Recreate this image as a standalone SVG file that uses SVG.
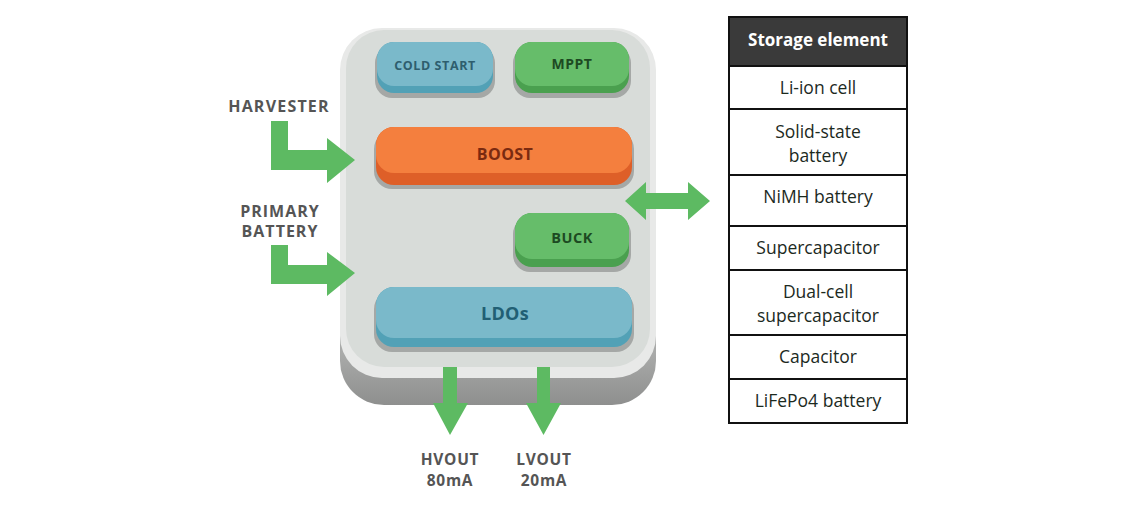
<svg xmlns="http://www.w3.org/2000/svg" width="1140" height="505" viewBox="0 0 1140 505">
<defs>
<linearGradient id="baseG" x1="0" y1="0" x2="0" y2="1">
<stop offset="0.85" stop-color="#a9aaa9"/>
<stop offset="1" stop-color="#8e8f8e"/>
</linearGradient>
<style>
.lbl{font-family:"Open Sans","Liberation Sans",sans-serif;font-weight:700;fill:#555555;text-anchor:middle}
.blk{font-family:"Open Sans","Liberation Sans",sans-serif;font-weight:700;text-anchor:middle}
.tbl{font-family:"Open Sans","Liberation Sans",sans-serif;font-size:17.5px;fill:#1c2a1e;text-anchor:middle}
.cell{fill:#ffffff;stroke:#111111;stroke-width:2}
.arrow{fill:#5dba62}
.shadow{fill:#a5a8a6}
</style>
</defs>
<rect width="1140" height="505" fill="#ffffff"/>

<g id="chip">
<rect x="340" y="60" width="316" height="345" rx="44" fill="url(#baseG)"/>
<rect x="340" y="28" width="316" height="350" rx="42" fill="#e8e9e8"/>
<rect x="346" y="30" width="304" height="337" rx="38" fill="#d8dcd9"/>
</g>

<g id="cold-start">
<rect class="shadow" x="375" y="46" width="120" height="52" rx="17"/>
<rect x="377" y="42" width="116" height="51" rx="17" fill="#52a1b6"/>
<rect x="377" y="42" width="116" height="44" rx="17" fill="#7ab9ca"/>
<text class="blk" x="435" y="69.5" font-size="12.5" letter-spacing="0.6" fill="#2e5e6e">COLD START</text>
</g>

<g id="mppt">
<rect class="shadow" x="513" y="46" width="118" height="52" rx="17"/>
<rect x="515" y="42" width="114" height="51" rx="17" fill="#4aa04f"/>
<rect x="515" y="42" width="114" height="44" rx="17" fill="#66bd6a"/>
<text class="blk" x="572" y="69" font-size="14" letter-spacing="0.5" fill="#1d4a22">MPPT</text>
</g>

<g id="boost">
<rect class="shadow" x="374" y="131" width="260" height="58" rx="18"/>
<rect x="376" y="127" width="256" height="58" rx="18" fill="#de5f28"/>
<rect x="376" y="127" width="256" height="46" rx="18" fill="#f47f3e"/>
<text class="blk" x="505" y="160" font-size="16" letter-spacing="0.4" fill="#7a2a10">BOOST</text>
</g>

<g id="buck">
<rect class="shadow" x="513" y="217" width="118" height="55" rx="17"/>
<rect x="515" y="213" width="114" height="54" rx="17" fill="#4aa04f"/>
<rect x="515" y="213" width="114" height="46" rx="17" fill="#66bd6a"/>
<text class="blk" x="572" y="243" font-size="14.5" letter-spacing="0.5" fill="#1d4a22">BUCK</text>
</g>

<g id="ldos">
<rect class="shadow" x="374" y="291" width="260" height="61" rx="18"/>
<rect x="376" y="287" width="256" height="60" rx="18" fill="#52a1b6"/>
<rect x="376" y="287" width="256" height="51" rx="18" fill="#7ab9ca"/>
<text class="blk" x="505" y="320" font-size="18" letter-spacing="0.3" fill="#215f74">LDOs</text>
</g>

<g id="harvester">
<text class="lbl" x="279" y="112" font-size="16" letter-spacing="1.2">HARVESTER</text>
</g>
<g id="primary-battery">
<text class="lbl" x="280" y="217" font-size="16" letter-spacing="1">PRIMARY</text>
<text class="lbl" x="280" y="237" font-size="16" letter-spacing="1">BATTERY</text>
</g>
<g id="hvout">
<text class="lbl" x="450" y="465" font-size="15.5" letter-spacing="0.7">HVOUT</text>
<text class="lbl" x="450" y="486" font-size="15.5" letter-spacing="0.7">80mA</text>
</g>
<g id="lvout">
<text class="lbl" x="544" y="465" font-size="15.5" letter-spacing="0.7">LVOUT</text>
<text class="lbl" x="544" y="486" font-size="15.5" letter-spacing="0.7">20mA</text>
</g>

<g id="connectors">
<polygon class="arrow" points="271,121 288,121 288,150 327,150 327,138 355,160 327,183 327,170 271,170"/>
<polygon class="arrow" points="271,245 288,245 288,265 327,265 327,252 355,273 327,296 327,284 271,284"/>
<polygon class="arrow" points="625,201 646,182 646,193 688,193 688,182 710,201 688,220 688,209 646,209 646,220"/>
<polygon class="arrow" points="443,367 457,367 457,403 468,403 450,435 433,403 443,403"/>
<polygon class="arrow" points="537,367 550,367 550,403 561,403 543.5,435 526,403 537,403"/>
</g>

<g id="storage-table">
<rect x="729" y="17" width="178" height="49" fill="#3a3a3a" stroke="#111111" stroke-width="2"/>
<text x="818" y="46" font-family="'Open Sans','Liberation Sans',sans-serif" font-size="17" font-weight="700" fill="#ffffff" text-anchor="middle">Storage element</text>
<rect class="cell" x="729" y="66" width="178" height="43"/>
<text class="tbl" x="818" y="94">Li-ion cell</text>
<rect class="cell" x="729" y="109" width="178" height="66"/>
<text class="tbl" x="818" y="138">Solid-state</text>
<text class="tbl" x="818" y="162">battery</text>
<rect class="cell" x="729" y="175" width="178" height="51"/>
<text class="tbl" x="818" y="203">NiMH battery</text>
<rect class="cell" x="729" y="226" width="178" height="44"/>
<text class="tbl" x="818" y="254">Supercapacitor</text>
<rect class="cell" x="729" y="270" width="178" height="65"/>
<text class="tbl" x="818" y="298">Dual-cell</text>
<text class="tbl" x="818" y="322">supercapacitor</text>
<rect class="cell" x="729" y="335" width="178" height="44"/>
<text class="tbl" x="818" y="363">Capacitor</text>
<rect class="cell" x="729" y="379" width="178" height="44"/>
<text class="tbl" x="818" y="407">LiFePo4 battery</text>
</g>
</svg>
